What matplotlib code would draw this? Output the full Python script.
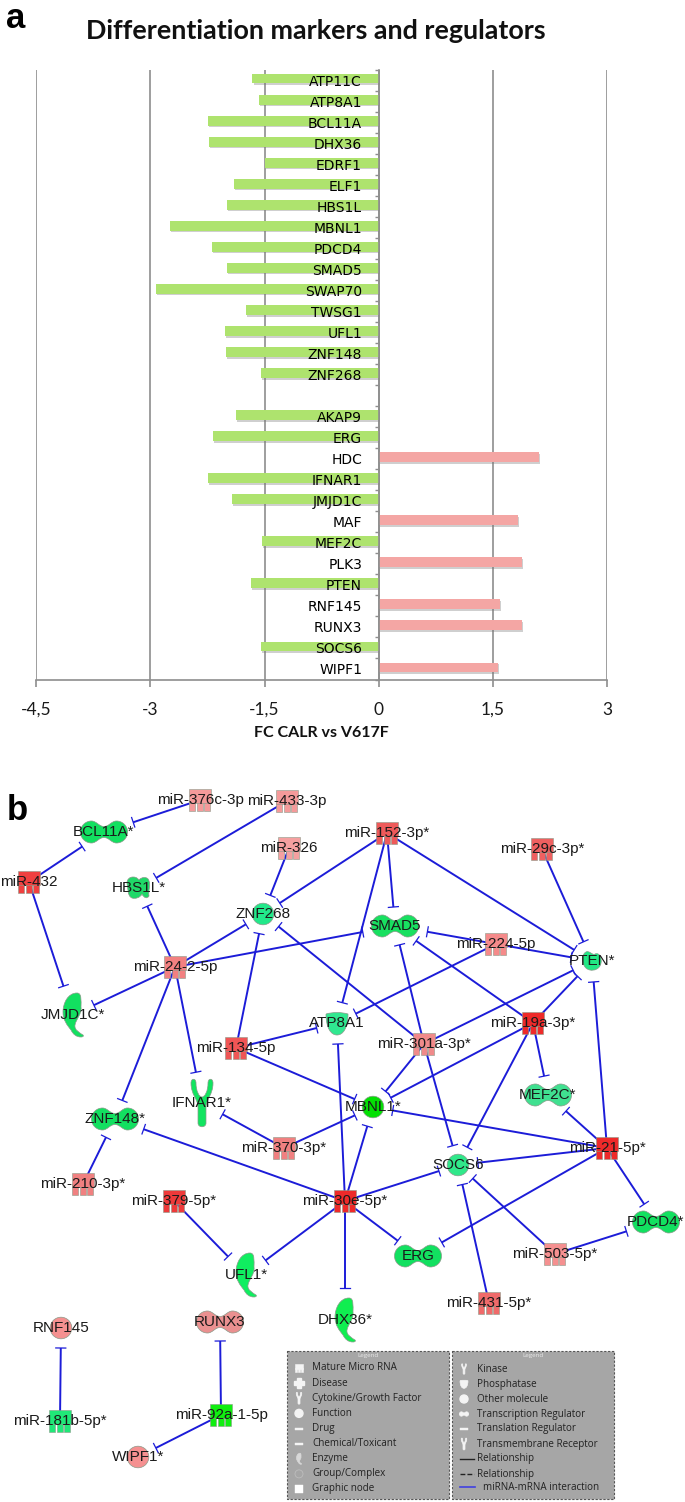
import numpy as np
import matplotlib
matplotlib.use("Agg")
import matplotlib.pyplot as plt
import matplotlib.patheffects as pe
from matplotlib.patches import PathPatch, Rectangle, Circle
from matplotlib.path import Path
from matplotlib.transforms import Affine2D

W, H = 685, 1502

# bar chart values
genes = ["ATP11C", "ATP8A1", "BCL11A", "DHX36", "EDRF1", "ELF1", "HBS1L", "MBNL1", "PDCD4",
         "SMAD5", "SWAP70", "TWSG1", "UFL1", "ZNF148", "ZNF268", "",
         "AKAP9", "ERG", "HDC", "IFNAR1", "JMJD1C", "MAF", "MEF2C", "PLK3", "PTEN",
         "RNF145", "RUNX3", "SOCS6", "WIPF1"]
fold_change = [-1.66, -1.57, -2.25, -2.23, -1.50, -1.90, -2.00, -2.74, -2.19,
               -2.00, -2.93, -1.74, -2.02, -2.01, -1.55, 0,
               -1.88, -2.18, 2.10, -2.25, -1.93, 1.83, -1.54, 1.88, -1.68,
               1.59, 1.88, -1.55, 1.57]
x_ticks = [-4.5, -3, -1.5, 0, 1.5, 3]
x_labels = ["-4,5", "-3", "-1,5", "0", "1,5", "3"]

# network nodes, pixel positions on the page
node_names = ["miR-376c-3p", "miR-433-3p", "miR-326", "miR-432", "miR-24-2-5p", "miR-134-5p",
              "miR-152-3p*", "miR-29c-3p*", "miR-224-5p", "miR-19a-3p*", "miR-301a-3p*",
              "miR-370-3p*", "miR-210-3p*", "miR-379-5p*", "miR-30e-5p*", "miR-21-5p*",
              "miR-503-5p*", "miR-431-5p*", "miR-181b-5p*", "miR-92a-1-5p",
              "BCL11A*", "HBS1L*", "ZNF268", "JMJD1C*", "ATP8A1", "SMAD5", "PTEN*",
              "IFNAR1*", "ZNF148*", "MBNL1*", "MEF2C*", "SOCS6", "ERG", "PDCD4*",
              "UFL1*", "DHX36*", "RNF145", "RUNX3", "WIPF1*"]
node_x = [200, 287, 289, 29, 175, 236, 387, 542, 496, 533, 424, 284, 83, 174, 345, 607, 555, 489, 60, 221,
          104, 139, 263, 73, 337, 395, 592, 202, 115, 373, 548, 458, 418, 656, 246, 345, 61, 220, 138]
node_y = [800, 801, 848, 882, 967, 1048, 833, 849, 944, 1023, 1044, 1148, 1184, 1201, 1201, 1148, 1254, 1303, 1421, 1415,
          832, 888, 914, 1015, 1023, 926, 961, 1103, 1119, 1107, 1095, 1165, 1256, 1222, 1275, 1320, 1328, 1322, 1457]
node_kind = ["mir"] * 20 + ["peanut", "lobes", "circle", "enzyme", "bowl", "peanut", "blob",
                            "receptor", "peanut", "circle", "peanut", "circle", "peanut", "peanut",
                            "enzyme", "enzyme", "circle", "peanut", "circle"]
node_color = ["#f59a9a", "#f59a9a", "#f5a0a0", "#f04040", "#f28080", "#f05555",
              "#ee5a5a", "#ee6060", "#f58a8a", "#ee2a2a", "#f08a8a",
              "#f08080", "#f08080", "#ee3a3a", "#ee2a2a", "#ee2a2a",
              "#f59090", "#f06a6a", "#20e878", "#10ee10",
              "#12e060", "#20d868", "#22e88a", "#12e060", "#30e890", "#18e060", "#22e884",
              "#12e460", "#12e060", "#04e004", "#40e090", "#30e88a", "#12e060", "#12e060",
              "#10ee60", "#10ee50", "#f59090", "#ea9090", "#f59090"]

edge_src = ["miR-376c-3p", "miR-433-3p", "miR-432", "miR-432", "miR-24-2-5p", "miR-24-2-5p", "miR-24-2-5p",
            "miR-24-2-5p", "miR-24-2-5p", "miR-24-2-5p", "miR-326", "miR-152-3p*", "miR-152-3p*", "miR-152-3p*",
            "miR-152-3p*", "miR-29c-3p*", "miR-224-5p", "miR-224-5p", "miR-224-5p", "miR-134-5p", "miR-134-5p",
            "miR-134-5p", "miR-301a-3p*", "miR-301a-3p*", "miR-301a-3p*", "miR-301a-3p*", "miR-301a-3p*",
            "miR-19a-3p*", "miR-19a-3p*", "miR-19a-3p*", "miR-19a-3p*", "miR-19a-3p*", "miR-21-5p*", "miR-21-5p*",
            "miR-21-5p*", "miR-21-5p*", "miR-21-5p*", "miR-21-5p*", "miR-370-3p*", "miR-370-3p*", "miR-30e-5p*",
            "miR-30e-5p*", "miR-30e-5p*", "miR-30e-5p*", "miR-30e-5p*", "miR-30e-5p*", "miR-30e-5p*", "miR-210-3p*",
            "miR-379-5p*", "miR-503-5p*", "miR-503-5p*", "miR-431-5p*", "miR-181b-5p*", "miR-92a-1-5p", "miR-92a-1-5p"]
edge_tgt = ["BCL11A*", "HBS1L*", "BCL11A*", "JMJD1C*", "HBS1L*", "ZNF268", "JMJD1C*",
            "SMAD5", "ZNF148*", "IFNAR1*", "ZNF268", "ZNF268", "SMAD5", "ATP8A1",
            "PTEN*", "PTEN*", "SMAD5", "PTEN*", "ATP8A1", "ZNF268", "ATP8A1",
            "MBNL1*", "ZNF268", "SMAD5", "PTEN*", "MBNL1*", "SOCS6",
            "SMAD5", "PTEN*", "MEF2C*", "MBNL1*", "SOCS6", "PTEN*", "MEF2C*",
            "MBNL1*", "SOCS6", "ERG", "PDCD4*", "IFNAR1*", "MBNL1*", "ATP8A1",
            "MBNL1*", "SOCS6", "ZNF148*", "UFL1*", "ERG", "DHX36*", "ZNF148*",
            "UFL1*", "SOCS6", "PDCD4*", "SOCS6", "RNF145", "RUNX3", "WIPF1*"]

legend_left = ["Mature Micro RNA", "Disease", "Cytokine/Growth Factor", "Function", "Drug",
               "Chemical/Toxicant", "Enzyme", "Group/Complex", "Graphic node"]
legend_right = ["Kinase", "Phosphatase", "Other molecule", "Transcription Regulator",
                "Translation Regulator", "Transmembrane Receptor", "Relationship", "Relationship"]


def bez(start, *pts):
    # closed path from a start point and cubic bezier segments
    verts = [start]
    for p in pts:
        verts.append(p)
    codes = [Path.MOVETO] + [Path.CURVE4] * (len(verts) - 1)
    return Path(verts, codes)


k = 0.5523
R, d, n = 11, 12.5, 5.5
shapes = {
    "peanut": bez((-d, -R), (-d + 5, -R), (-5, -n), (0, -n), (5, -n), (d - 5, -R), (d, -R),
                  (d + k * R, -R), (d + R, -k * R), (d + R, 0), (d + R, k * R), (d + k * R, R), (d, R),
                  (d - 5, R), (5, n), (0, n), (-5, n), (-d + 5, R), (-d, R),
                  (-d - k * R, R), (-d - R, k * R), (-d - R, 0), (-d - R, -k * R), (-d - k * R, -R), (-d, -R)),
    "enzyme": bez((4, -22), (-5, -22), (-10, -12), (-10, -3), (-10, 5), (-6, 10), (-2, 15),
                  (0, 19), (3, 22), (8, 22), (10, 22), (11, 21), (10, 20),
                  (7, 18), (1, 15), (2, 10), (3, 4), (9, -1), (8, -8), (8, -14), (9, -22), (4, -22)),
    "receptor": bez((-4, 20), (-4, 14), (-4, 10), (-4, 4), (-4, -4), (-11, -8), (-11, -20),
                    (-11, -25), (-6, -25), (-6, -20), (-6, -12), (-3, -6), (0, -6), (3, -6), (6, -12), (6, -20),
                    (6, -25), (11, -25), (11, -20), (11, -8), (4, -4), (4, 4), (4, 10), (4, 14), (4, 20),
                    (4, 25), (-4, 25), (-4, 20)),
    "bowl": bez((-11, -9), (-4, -11), (4, -11), (11, -9), (11, 5), (6, 12), (0, 12),
                (-6, 12), (-11, 5), (-11, -9)),
    "lobes": bez((-6, -11), (-2, -11), (-1, -9), (0, -8), (2, -11), (9, -12), (10, -7),
                 (12, -2), (9, 2), (10, 8), (8, 11), (5, 10), (3, 6), (1, 10), (-4, 11), (-7, 10),
                 (-12, 8), (-11, -1), (-12, -5), (-12, -9), (-9, -11), (-6, -11)),
    "blob": bez((-6, -9), (-3, -11), (1, -5), (3, -7), (8, -9), (10, -2), (9, 2),
                (8, 8), (2, 10), (-2, 9), (-8, 8), (-10, 1), (-9, -3), (-9, -6), (-8, -8), (-6, -9)),
}


def draw_mir(ax, x, y, color, s=1.0, edge="#a08080"):
    for off in (-7.5, 0, 7.5):
        ax.add_patch(Rectangle((x + (off - 3) * s, y), 6 * s, 11 * s, fc=color, ec=edge, lw=0.4, zorder=3))
    ax.add_patch(Rectangle((x - 11 * s, y - 11 * s), 22 * s, 14 * s, fc=color, ec=edge, lw=0.4, zorder=3))


def draw_shape(ax, kind, x, y, color, s=1.0, edge="#8a9a8a"):
    if kind == "mir":
        draw_mir(ax, x, y, color, s, edge)
    elif kind == "circle":
        ax.add_patch(Circle((x, y), 10.8 * s, fc=color, ec=edge, lw=0.5, zorder=3))
    else:
        p = shapes[kind].transformed(Affine2D().scale(s).translate(x, y))
        ax.add_patch(PathPatch(p, fc=color, ec=edge, lw=0.5, zorder=3))


fig = plt.figure(figsize=(W / 100, H / 100), dpi=100)
fig.patch.set_facecolor("white")

# panel a
ax = fig.add_axes([36.3 / W, 1 - 679.5 / H, (607 - 36.3) / W, 610 / H])
ypos = np.arange(len(genes))
for v in x_ticks:
    ax.axvline(v, color="#8e8e8e", lw=1.2, zorder=0)
colors = ["#aee36e" if v < 0 else "#f4a6a4" for v in fold_change]
bars = ax.barh(ypos - 0.07, fold_change, height=0.47, color=colors, zorder=1)
for b in bars:
    b.set_path_effects([pe.SimplePatchShadow(offset=(0.8, -1.2), shadow_rgbFace="#777777", alpha=0.35), pe.Normal()])
ax.set_xlim(-4.5, 3)
ax.set_ylim(len(genes) - 0.5, -0.5)
ax.set_xticks(x_ticks)
ax.set_xticklabels(x_labels, fontfamily="Lato", fontsize=12.5, color="#1a1a1a")
ax.set_yticks(ypos)
ax.set_yticklabels(genes, fontfamily="Lato", fontsize=12.3, color="#111111")
ax.set_yticks(np.arange(len(genes) + 1) - 0.5, minor=True)
ax.tick_params(axis="y", which="major", length=0, pad=12)
ax.tick_params(axis="y", which="minor", length=3, color="#8e8e8e", width=1)
ax.tick_params(axis="x", length=5, color="#8e8e8e", width=1.2, pad=11)
for s in ("top", "right"):
    ax.spines[s].set_visible(False)
ax.spines["left"].set_position(("data", 0))
ax.spines["left"].set_color("#8e8e8e")
ax.spines["left"].set_linewidth(1.2)
ax.spines["bottom"].set_color("#8e8e8e")
ax.spines["bottom"].set_linewidth(1.2)
ax.patch.set_alpha(0)

# page overlay in pixels for the titles and the network
pg = fig.add_axes([0, 0, 1, 1], zorder=5)
pg.set_xlim(0, W)
pg.set_ylim(H, 0)
pg.axis("off")
pg.patch.set_alpha(0)

pg.text(16, 19, "a", fontfamily="Liberation Sans", fontweight="bold", fontsize=25, ha="center", va="center")
pg.text(17, 810, "b", fontfamily="Liberation Sans", fontweight="bold", fontsize=25, ha="center", va="center")
pg.text(316, 31, "Differentiation markers and regulators", fontfamily="Lato", fontweight="bold",
        fontsize=19.4, ha="center", va="center", color="#111111")
pg.text(321, 733, "FC CALR vs V617F", fontfamily="Lato", fontweight="bold", fontsize=11.5,
        ha="center", va="center", color="#111111")

# panel b, edges stop at an ellipse round the target and end in a T bar
pos = dict(zip(node_names, zip(node_x, node_y)))
kinds = dict(zip(node_names, node_kind))
reach = {"peanut": (34, 19), "circle": (20, 20), "enzyme": (22, 32), "receptor": (22, 32),
         "bowl": (21, 21), "lobes": (20, 20), "blob": (21, 21), "mir": (20, 20)}
blue = "#1c1cd8"
for a, b in zip(edge_src, edge_tgt):
    x0, y0 = pos[a]
    x1, y1 = pos[b]
    dx, dy = x0 - x1, y0 - y1
    rx, ry = reach[kinds[b]]
    t = 1 / np.hypot(dx / rx, dy / ry)
    ex, ey = x1 + dx * t, y1 + dy * t
    pg.plot([x0, ex], [y0, ey], color=blue, lw=1.4, zorder=2, solid_capstyle="butt")
    L = np.hypot(dx, dy)
    ux, uy = -dy / L * 5, dx / L * 5
    pg.plot([ex - ux, ex + ux], [ey - uy, ey + uy], color=blue, lw=0.9, zorder=2)

for name, x, y, kind, col in zip(node_names, node_x, node_y, node_kind, node_color):
    draw_shape(pg, kind, x, y, col)
    pg.text(x, y, name, fontfamily="Liberation Sans", fontsize=11, ha="center", va="center",
            color="#1a1a1a", zorder=4)

# legend panels
for x0, x1 in ((287, 449), (452, 614)):
    pg.add_patch(Rectangle((x0, 1351), x1 - x0, 148, fc="#a6a6a6", ec="#555555", lw=0.8, ls=(0, (2, 1.5)), zorder=3))
    pg.text((x0 + x1) / 2, 1355, "Legend", fontfamily="Open Sans", fontsize=4.5, color="#e8e8e8",
            ha="center", va="center", zorder=4)

rows_l = np.linspace(1368, 1489, len(legend_left))
rows_r = np.linspace(1369, 1474, len(legend_right))
for yy, lab in zip(rows_l, legend_left):
    pg.text(312, yy, lab, fontfamily="Open Sans", fontsize=7.1, color="#222222", va="center", zorder=4)
for yy, lab in zip(rows_r, legend_right):
    pg.text(477, yy, lab, fontfamily="Open Sans", fontsize=7.1, color="#222222", va="center", zorder=4)
pg.text(483, 1487, "miRNA-mRNA interaction", fontfamily="Open Sans", fontsize=7.1, color="#222222",
        va="center", zorder=4)

# legend icons
wh = "#f4f4f4"
draw_mir(pg, 299, rows_l[0], wh, 0.35, wh)
pg.plot([299], [rows_l[1]], marker="P", ms=7, color=wh, mec=wh, zorder=4)
draw_shape(pg, "receptor", 299, rows_l[2], wh, 0.25, wh)
pg.add_patch(Circle((299, rows_l[3]), 4, fc=wh, ec=wh, zorder=4))
pg.add_patch(Rectangle((295, rows_l[4] - 1), 8, 2, fc=wh, ec=wh, lw=0.3, zorder=4))
pg.add_patch(Rectangle((295, rows_l[5] - 1), 8, 2, fc=wh, ec=wh, lw=0.3, zorder=4))
draw_shape(pg, "enzyme", 299, rows_l[6], "#d8d8d8", 0.25, "#d8d8d8")
pg.add_patch(Circle((299, rows_l[7]), 4, fc="none", ec="#bdbdbd", lw=0.6, zorder=4))
pg.add_patch(Rectangle((295, rows_l[8] - 4), 8, 8, fc="white", ec="white", lw=0.3, zorder=4))
draw_shape(pg, "receptor", 464, rows_r[0], wh, 0.22, wh)
draw_shape(pg, "bowl", 464, rows_r[1], wh, 0.36, wh)
pg.add_patch(Circle((464, rows_r[2]), 4, fc=wh, ec=wh, zorder=4))
draw_shape(pg, "peanut", 464, rows_r[3], wh, 0.2, wh)
pg.add_patch(Rectangle((460, rows_r[4] - 1), 8, 2, fc=wh, ec=wh, lw=0.3, zorder=4))
draw_shape(pg, "receptor", 464, rows_r[5], wh, 0.25, wh)
pg.plot([460, 474], [rows_r[6], rows_r[6]], color="#222222", lw=1, zorder=4)
pg.plot([460, 474], [rows_r[7], rows_r[7]], color="#222222", lw=1, ls=(0, (3.5, 1.5)), zorder=4)
pg.plot([460, 475], [1487, 1487], color="#4040e0", lw=1.2, zorder=4)

fig.savefig("out.png", dpi=100, facecolor="white")
